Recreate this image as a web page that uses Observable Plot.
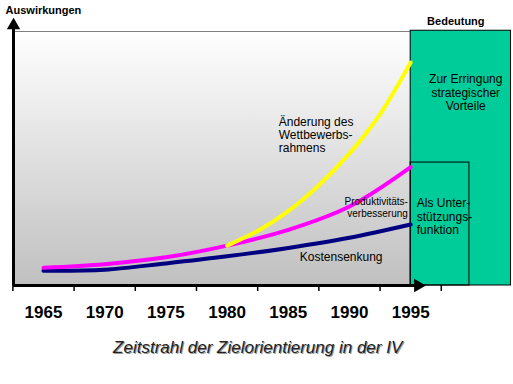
<!DOCTYPE html>
<html>
<head>
<meta charset="utf-8">
<script src="https://cdn.jsdelivr.net/npm/d3@7"></script>
<script src="https://cdn.jsdelivr.net/npm/@observablehq/plot@0.6"></script>
<style>
  html, body { margin: 0; padding: 0; background: #fff; }
  svg { display: block; font-family: "Liberation Sans", Arial, sans-serif; }
</style>
</head>
<body>
<div id="chart"></div>
<script>
// ---- data ----
const years = [1965, 1970, 1975, 1980, 1985, 1990, 1995];
const kostensenkung = [5.8, 6.2, 8.7, 11.5, 14.8, 18.8, 24.0];
const produktivitaet = [7.0, 8.4, 11.1, 15.7, 21.9, 31.1, 46.6];
const wettbewerbYears = [1980, 1982.5, 1985, 1987.5, 1990, 1992.5, 1995];
const wettbewerb = [15.7, 21.5, 29.3, 39.5, 52.0, 67.5, 87.8];
const tickBounds = [1962.5, 1967.5, 1972.5, 1977.5, 1982.5, 1987.5, 1992.5, 1997.5];

const navy = years.map((y, i) => ({year: y, v: kostensenkung[i]}));
const magenta = years.map((y, i) => ({year: y, v: produktivitaet[i]}));
const yellow = wettbewerbYears.map((y, i) => ({year: y, v: wettbewerb[i]}));

const font = "Liberation Sans, Arial, sans-serif";

const defs = () => {
  const d = d3.create("svg:defs");
  const g = d.append("linearGradient").attr("id", "bg")
    .attr("x1", 0).attr("y1", 0).attr("x2", 0).attr("y2", 1);
  g.append("stop").attr("offset", "0%").attr("stop-color", "#ffffff");
  g.append("stop").attr("offset", "100%").attr("stop-color", "#c0c0c0");
  return d.node();
};

const chart = Plot.plot({
  width: 513,
  height: 384,
  marginTop: 31,
  marginBottom: 99,
  marginLeft: 13,
  marginRight: 1,
  style: {fontFamily: font, background: "#fff", overflow: "visible"},
  x: {domain: [1962.55, 2003.32], axis: null},
  y: {domain: [0, 100], axis: null},
  marks: [
    defs,
    // plot background
    Plot.rect([0], {x1: 1962.55, x2: 1995, y1: 0, y2: 100, fill: "url(#bg)"}),
    Plot.ruleY([100], {x1: 1962.55, x2: 1995, stroke: "#808080", strokeWidth: 1}),
    // Bedeutung boxes
    Plot.rect([0], {x1: 1995, x2: 2003.2, y1: 0, y2: 100.3, fill: "#00CC99", stroke: "#000", strokeWidth: 1}),
    Plot.rect([0], {x1: 1995, x2: 1999.8, y1: 0, y2: 48.4, fill: "none", stroke: "#000", strokeWidth: 1}),
    // lines
    Plot.line(navy, {x: "year", y: "v", stroke: "#000080", strokeWidth: 4, curve: "catmull-rom"}),
    Plot.line(magenta, {x: "year", y: "v", stroke: "#FF00FF", strokeWidth: 4, curve: "catmull-rom"}),
    Plot.line(yellow, {x: "year", y: "v", stroke: "#FFFF00", strokeWidth: 4, curve: "catmull-rom"}),
    // x ticks
    Plot.axisX({ticks: tickBounds, tickSize: 6, tickFormat: () => "", label: null, strokeWidth: 1.5, stroke: "#000"}),
    // year labels
    Plot.axisX({ticks: years, tickSize: 0, tickPadding: 20, tickFormat: d => String(d), label: null,
      fontSize: 17, fontWeight: "bold", fill: "#000"}),
    // axes lines with arrows
    Plot.ruleY([0], {x1: 1962.55, x2: 1995.4, stroke: "#000", strokeWidth: 3}),
    Plot.dot([0], {x: 1995.6, y: 0, symbol: "triangle", rotate: 90, r: 4, fill: "#000", stroke: "#000"}),
    Plot.ruleX([1962.55], {y1: 0, y2: 102, stroke: "#000", strokeWidth: 3}),
    Plot.dot([0], {x: 1962.55, y: 102.4, symbol: "triangle", r: 4, fill: "#000", stroke: "#000"}),
    // texts
    Plot.text(["Auswirkungen"], {x: 1961.9, y: 108.3, text: d => d, textAnchor: "start", fontSize: 11, fontWeight: "bold", fill: "#000"}),
    Plot.text(["Bedeutung"], {x: 1998.69, y: 103.9, text: d => d, fontSize: 11, fontWeight: "bold", fill: "#000"}),
    Plot.text(["Zur Erringung\nstrategischer\nVorteile"], {x: 1999.5, y: 76.0, text: d => d, fontSize: 12, lineHeight: 1.1, fill: "#000"}),
    Plot.text(["Als Unter-\nstützungs-\nfunktion"], {x: 1995.5, y: 27.2, text: d => d, textAnchor: "start", fontSize: 12, lineHeight: 1.1, fill: "#000"}),
    Plot.text(["Änderung des\nWettbewerbs-\nrahmens"], {x: 1984.22, y: 59.4, text: d => d, textAnchor: "start", fontSize: 12, lineHeight: 1.1, fill: "#000"}),
    Plot.text(["Produktivitäts-\nverbesserung"], {x: 1994.77, y: 30.7, text: d => d, textAnchor: "end", fontSize: 10, lineHeight: 1.2, fill: "#000"}),
    Plot.text(["Kostensenkung"], {x: 1985.94, y: 11.0, text: d => d, textAnchor: "start", fontSize: 12, fill: "#000"}),
    Plot.text(["Zeitstrahl der Zielorientierung in der IV"], {x: 1982.5, y: -24.4, dx: 1, dy: 1, text: d => d, fontSize: 17, fontStyle: "italic", fill: "#999"}),
    Plot.text(["Zeitstrahl der Zielorientierung in der IV"], {x: 1982.5, y: -24.4, text: d => d, fontSize: 17, fontStyle: "italic", fill: "#222"})
  ]
});
document.getElementById("chart").appendChild(chart);
</script>
</body>
</html>
